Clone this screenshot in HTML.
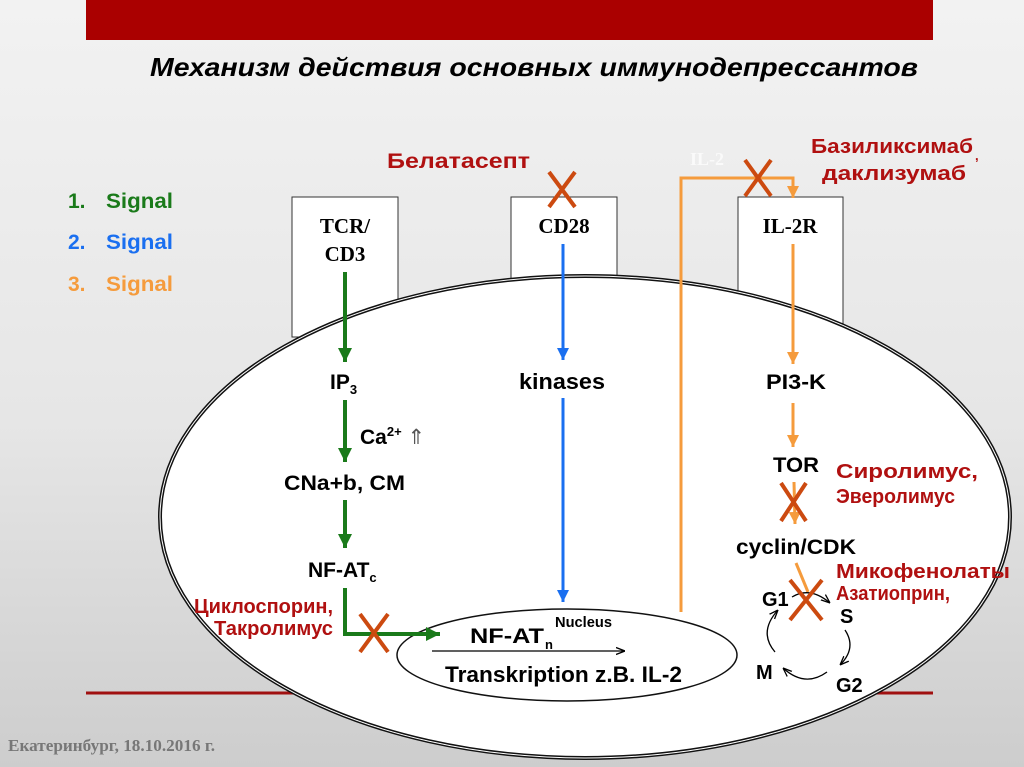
<!DOCTYPE html>
<html><head><meta charset="utf-8"><style>
html,body{margin:0;padding:0;width:1024px;height:767px;overflow:hidden;}
svg{display:block}
text{font-family:"Liberation Sans","DejaVu Sans",sans-serif;font-weight:bold;}
.serif{font-family:"Liberation Serif",serif;}
</style></head><body>
<svg width="1024" height="767" viewBox="0 0 1024 767" xmlns="http://www.w3.org/2000/svg">
<defs>
<linearGradient id="bg" x1="0" y1="0" x2="0" y2="1">
<stop offset="0" stop-color="#f2f2f2"/><stop offset="0.55" stop-color="#e6e6e6"/><stop offset="1" stop-color="#cdcdcd"/>
</linearGradient>
<marker id="ab" markerWidth="12" markerHeight="12" refX="12" refY="6" orient="auto" markerUnits="userSpaceOnUse"><path d="M0,0 L12,6 L0,12z" fill="#1a6ff0"/></marker>
<marker id="ao" markerWidth="12" markerHeight="12" refX="12" refY="6" orient="auto" markerUnits="userSpaceOnUse"><path d="M0,0 L12,6 L0,12z" fill="#f59b3c"/></marker>
<marker id="agr" markerWidth="14" markerHeight="14" refX="14" refY="7" orient="auto" markerUnits="userSpaceOnUse"><path d="M0,0 L14,7 L0,14z" fill="#1a7a1a"/></marker>
<marker id="ak" markerWidth="9" markerHeight="9" refX="9" refY="4.5" orient="auto" markerUnits="userSpaceOnUse"><path d="M0,1 L9,4.5 L0,8" fill="none" stroke="#000" stroke-width="1.3"/></marker>
</defs>
<rect width="1024" height="767" fill="url(#bg)"/>
<rect x="86" y="0" width="847" height="40" fill="#aa0000"/>
<text x="150" y="76" font-size="26" font-style="italic" textLength="768" lengthAdjust="spacingAndGlyphs">Механизм действия основных иммунодепрессантов</text>

<line x1="86" y1="693" x2="933" y2="693" stroke="#a01010" stroke-width="3"/>

<rect x="292" y="197" width="106" height="140" fill="#fff" stroke="#333" stroke-width="1"/>
<rect x="511" y="197" width="106" height="140" fill="#fff" stroke="#333" stroke-width="1"/>
<rect x="738" y="197" width="105" height="140" fill="#fff" stroke="#333" stroke-width="1"/>

<ellipse cx="585" cy="517" rx="425" ry="241" fill="#fff" stroke="#111" stroke-width="4"/>
<ellipse cx="585" cy="517" rx="425" ry="241" fill="none" stroke="#fff" stroke-width="1"/>

<g lengthAdjust="spacingAndGlyphs">
<text class="serif" x="345" y="233" font-size="21" text-anchor="middle">TCR/</text>
<text class="serif" x="345" y="261" font-size="21" text-anchor="middle">CD3</text>
<text class="serif" x="564" y="233" font-size="21" text-anchor="middle">CD28</text>
<text class="serif" x="790" y="233" font-size="21" text-anchor="middle">IL-2R</text>
</g>

<g font-size="21">
<text x="68" y="208" fill="#1a7a1a">1.</text><text x="106" y="208" fill="#1a7a1a" textLength="67" lengthAdjust="spacingAndGlyphs">Signal</text>
<text x="68" y="249" fill="#1a6ff0">2.</text><text x="106" y="249" fill="#1a6ff0" textLength="67" lengthAdjust="spacingAndGlyphs">Signal</text>
<text x="68" y="291" fill="#f59b3c">3.</text><text x="106" y="291" fill="#f59b3c" textLength="67" lengthAdjust="spacingAndGlyphs">Signal</text>
</g>

<g stroke="#1a7a1a" stroke-width="4" fill="none">
<line x1="345" y1="272" x2="345" y2="362" marker-end="url(#agr)"/>
<line x1="345" y1="400" x2="345" y2="462" marker-end="url(#agr)"/>
<line x1="345" y1="500" x2="345" y2="548" marker-end="url(#agr)"/>
</g>
<text x="330" y="389" font-size="21">IP<tspan font-size="13" dy="5">3</tspan></text>
<text x="360" y="444" font-size="21">Ca<tspan font-size="13" dy="-8">2+</tspan><tspan dy="8" fill="#555" font-weight="normal"> ⇑</tspan></text>
<text x="284" y="490" font-size="21" textLength="121" lengthAdjust="spacingAndGlyphs">CNa+b, CM</text>
<text x="308" y="577" font-size="21">NF-AT<tspan font-size="13" dy="5">c</tspan></text>

<g stroke="#1a6ff0" stroke-width="3" fill="none">
<line x1="563" y1="244" x2="563" y2="360" marker-end="url(#ab)"/>
<line x1="563" y1="398" x2="563" y2="602" marker-end="url(#ab)"/>
</g>
<text x="519" y="389" font-size="22" textLength="86" lengthAdjust="spacingAndGlyphs">kinases</text>

<ellipse cx="567" cy="655" rx="170" ry="46" fill="#fff" stroke="#111" stroke-width="1.5"/>
<polyline points="345,588 345,634 440,634" stroke="#1a7a1a" stroke-width="4" fill="none" marker-end="url(#agr)"/>
<text x="470" y="643" font-size="21" textLength="74" lengthAdjust="spacingAndGlyphs">NF-AT</text><text x="545" y="649" font-size="13">n</text>
<text x="555" y="627" font-size="15" font-weight="normal" textLength="57" lengthAdjust="spacingAndGlyphs">Nucleus</text>
<line x1="432" y1="651" x2="625" y2="651" stroke="#000" stroke-width="1.3" marker-end="url(#ak)"/>
<text x="445" y="682" font-size="22" textLength="237" lengthAdjust="spacingAndGlyphs">Transkription z.B. IL-2</text>

<g stroke="#f59b3c" stroke-width="3" fill="none">
<polyline points="681,612 681,178 793,178 793,198" marker-end="url(#ao)"/>
<line x1="793" y1="244" x2="793" y2="364" marker-end="url(#ao)"/>
<line x1="793" y1="403" x2="793" y2="447" marker-end="url(#ao)"/>
<line x1="794" y1="482" x2="795" y2="524" marker-end="url(#ao)"/>
<line x1="796" y1="563" x2="808" y2="592"/>
</g>
<text x="690" y="165" font-size="18" fill="#fafafa" class="serif">IL-2</text>
<g lengthAdjust="spacingAndGlyphs" font-size="21">
<text x="766" y="389" textLength="60" lengthAdjust="spacingAndGlyphs">PI3-K</text>
<text x="773" y="472" textLength="46" lengthAdjust="spacingAndGlyphs">TOR</text>
<text x="736" y="554" textLength="120" lengthAdjust="spacingAndGlyphs">cyclin/CDK</text>
</g>

<text x="762" y="606" font-size="20">G1</text>
<text x="840" y="623" font-size="20">S</text>
<text x="756" y="679" font-size="20">M</text>
<text x="836" y="692" font-size="20">G2</text>
<g stroke="#000" stroke-width="1.3" fill="none">
<path d="M792,597 Q810,586 830,603" marker-end="url(#ak)"/>
<path d="M845,630 Q857,648 840,665" marker-end="url(#ak)"/>
<path d="M827,672 Q805,688 783,668" marker-end="url(#ak)"/>
<path d="M775,652 Q758,632 778,610" marker-end="url(#ak)"/>
</g>

<g fill="#b01010" font-size="20">
<text x="387" y="168" font-size="21" textLength="143" lengthAdjust="spacingAndGlyphs">Белатасепт</text>
<text x="811" y="153" textLength="162" lengthAdjust="spacingAndGlyphs">Базиликсимаб</text><text x="975" y="160" font-size="13">,</text>
<text x="822" y="180" textLength="144" lengthAdjust="spacingAndGlyphs">даклизумаб</text>
<text x="836" y="478" textLength="142" lengthAdjust="spacingAndGlyphs">Сиролимус,</text>
<text x="836" y="503" textLength="119" lengthAdjust="spacingAndGlyphs">Эверолимус</text>
<text x="836" y="578" textLength="174" lengthAdjust="spacingAndGlyphs">Микофенолаты</text>
<text x="836" y="600" textLength="114" lengthAdjust="spacingAndGlyphs">Азатиоприн,</text>
<text x="194" y="613" textLength="139" lengthAdjust="spacingAndGlyphs">Циклоспорин,</text>
<text x="214" y="635" textLength="119" lengthAdjust="spacingAndGlyphs">Такролимус</text>
</g>

<g stroke="#cc4a10" stroke-width="4" fill="none">
<path d="M549,172 L575,207 M575,172 L549,207"/>
<path d="M745,160 L771,196 M771,160 L745,196"/>
<path d="M781,483 L806,521 M806,483 L781,521"/>
<path d="M790,580 L822,620 M822,580 L790,620"/>
<path d="M360,614 L388,652 M388,614 L360,652"/>
</g>

<text class="serif" x="8" y="751" font-size="17" fill="#777" textLength="207" lengthAdjust="spacingAndGlyphs">Екатеринбург, 18.10.2016 г.</text>
</svg>
</body></html>
